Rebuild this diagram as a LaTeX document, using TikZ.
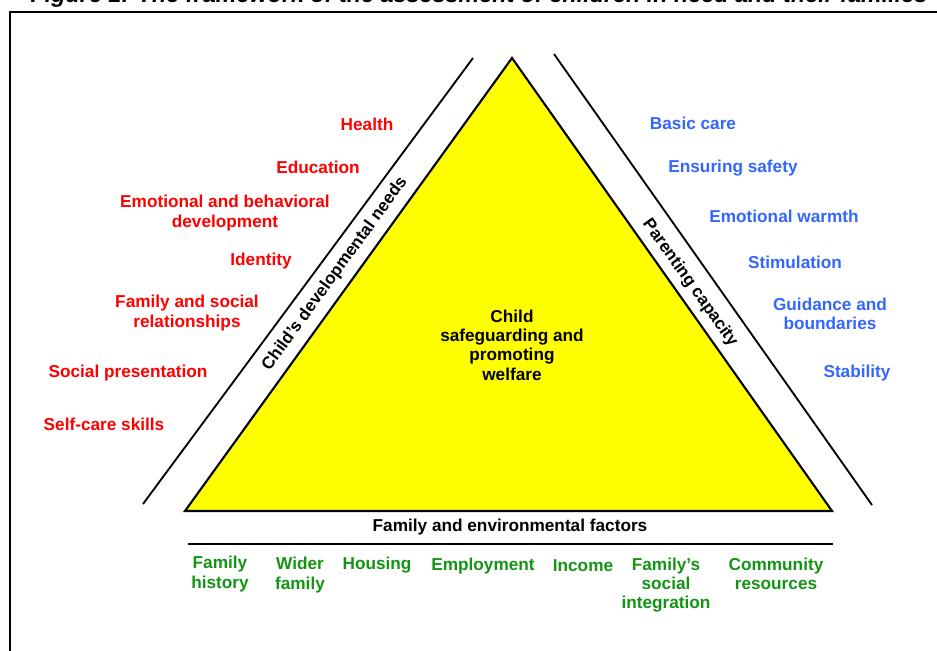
\documentclass[tikz,border=0pt]{standalone}
\usepackage{fontspec}
\setmainfont{Liberation Sans}
\usepackage{tikz}
\usetikzlibrary{positioning}
\definecolor{cRed}{HTML}{FF0000}
\definecolor{cBlue}{HTML}{3366FF}
\definecolor{cGreen}{HTML}{149414}
\definecolor{cYellow}{HTML}{FFFF00}

\begin{document}
\begin{tikzpicture}[
    x=0.02cm, y=-0.02cm,
    lab/.style={font=\fontsize{9.8}{11}\selectfont\bfseries, align=center, inner sep=0pt},
    need/.style={lab, text=cRed},
    care/.style={lab, text=cBlue},
    env/.style={lab, text=cGreen},
    side/.style={font=\fontsize{9.7}{10}\selectfont\bfseries, inner sep=0pt},
    band/.style={line width=1.05pt},
    rule/.style={line width=1.2pt},
]
\useasboundingbox (0,0) rectangle (937,651);

% ---------- Title (cut by the page) + frame ----------
\node[font=\fontsize{13.3}{14}\selectfont\bfseries\itshape, anchor=base, inner sep=0pt]
  (title) at (479,3) {Figure 1: The framework of the assessment of children in need and their families};
\draw[rule] (960,12) -- (10,12) -- (10,680);

% ---------- Triangle ----------
\coordinate (apex) at (512,58);
\coordinate (bl)   at (185,511);
\coordinate (br)   at (832,511);
\filldraw[fill=cYellow, rule, line join=miter] (apex) -- (bl) -- (br) -- cycle;

\node[lab] (core) at (512,345) {Child\\safeguarding and\\promoting\\welfare};

% ---------- Side bands ----------
\coordinate (ltop) at (473,58);
\coordinate (lbot) at (143,504);
\coordinate (rtop) at (554,54);
\coordinate (rbot) at (872,505);
\draw[band] (ltop) -- (lbot);
\draw[band] (rtop) -- (rbot);

\node[side, rotate=54]    (needs)  at (335,274) {Child’s developmental needs};
\node[side, rotate=-54.5] (parent) at (690,283) {Parenting capacity};

% ---------- Base ----------
\node[lab] (envhead) at (510,527) {Family and environmental factors};
\coordinate (rl) at (188,544);
\coordinate (rr) at (833,544);
\draw[rule] (rl) -- (rr);

% ---------- Child's needs (red) ----------
\foreach \n/\px/\py/\txt in {
    nh/367/124/{Health},
    ne/318/167/{Education},
    nb/225/213/{Emotional and behavioral\\development},
    ni/261/261/{Identity},
    nf/187/313/{Family and social\\relationships},
    np/128/373/{Social presentation},
    ns/104/424/{Self-care skills}}{
  \node[need] (\n) at (\px,\py) {\txt};
}

% ---------- Parenting capacity (blue) ----------
\foreach \n/\px/\py/\txt in {
    pc/693/123/{Basic care},
    ps/733/168/{Ensuring safety},
    pw/784/216/{Emotional warmth},
    pm/795/262/{Stimulation},
    pg/830/314/{Guidance and\\boundaries},
    pb/857/373/{Stability}}{
  \node[care] (\n) at (\px,\py) {\txt};
}

% ---------- Family and environment (green) ----------
\foreach \n/\px/\py/\txt in {
    eh/220/574/{Family\\history},
    ew/300/575/{Wider\\family},
    eo/377/565/{Housing},
    ee/483/566/{Employment},
    ei/583/566/{Income},
    es/666/585/{Family’s\\social\\integration},
    ec/776/574/{Community\\resources}}{
  \node[env] (\n) at (\px,\py) {\txt};
}

\end{tikzpicture}
\end{document}
